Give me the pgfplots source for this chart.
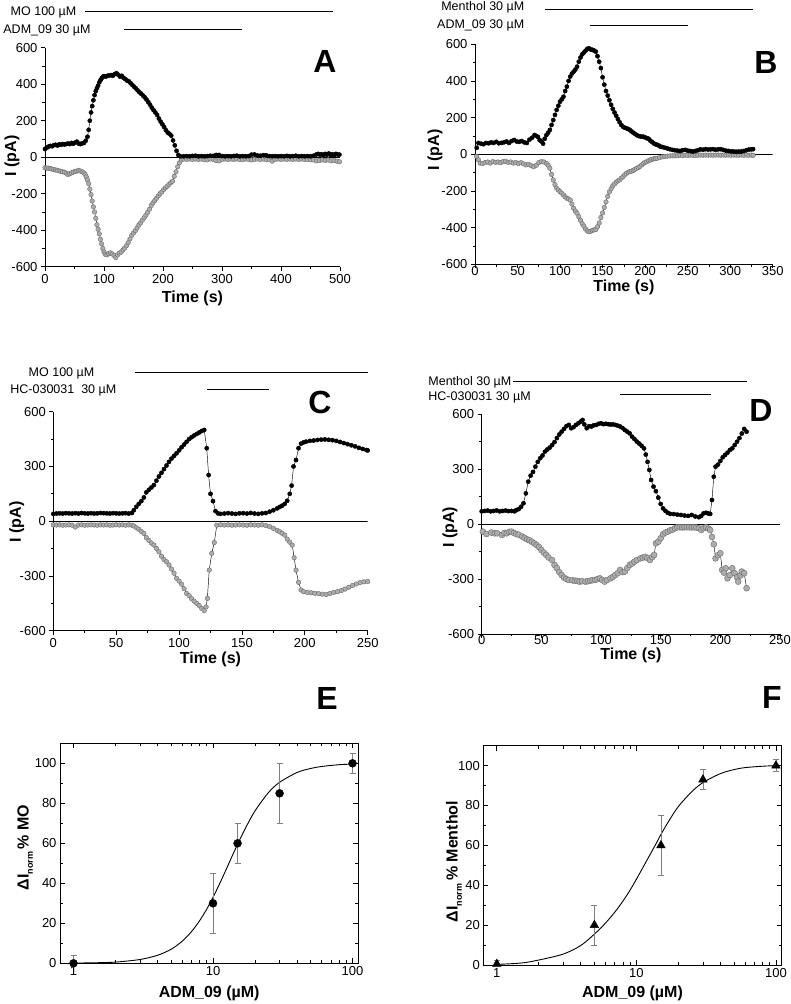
\documentclass[border=0pt]{standalone}
\usepackage{fontspec}
\setmainfont{Liberation Sans}
\usepackage{pgfplots}
\pgfplotsset{compat=1.18}

\newcommand\tl{\fontsize{13}{15}\selectfont}
\newcommand\al{\fontsize{16}{18}\selectfont\bfseries}
\newcommand\pl{\fontsize{32}{34}\selectfont\bfseries}
\newcommand\dl{\fontsize{12.5}{14}\selectfont}

\pgfplotsset{
  trace/.style={
    scale only axis, axis lines=left, axis line style={-, line width=0.8pt},
    tick align=outside, major tick length=4pt, minor tick length=2.5pt,
    tick style={black, line width=0.7pt},
    minor x tick num=1, minor y tick num=1,
    xmin=0, ymin=-600, ymax=600,
    tick label style={font=\tl},
    /pgf/number format/assume math mode=true,
    xlabel={Time (s)}, ylabel={I (pA)},
    label style={font=\al},
  },
  dose/.style={
    scale only axis, xmin=0.8, xmax=110, ymin=0, ymax=110,
    axis line style={line width=0.8pt},
    tick align=inside, major tick length=5pt, minor tick length=3pt,
    tick style={black, line width=0.7pt},
    xtick={1,10,100}, xticklabels={1,10,100},
    minor xtick={2,3,4,5,6,7,8,9,20,30,40,50,60,70,80,90},
    ytick={0,20,40,60,80,100}, minor ytick={10,30,50,70,90},
    tick label style={font=\tl},
    /pgf/number format/assume math mode=true,
    xlabel={ADM\_09 (µM)},
    label style={font=\al},
  },
  blk/.style={black, line width=0.45pt, mark=*, mark size=2.1pt,
    mark options={fill=black, draw=black}},
  gry/.style={black, line width=0.45pt, mark=*, mark size=2.3pt,
    mark options={fill=gray!65, draw=gray!85!black, line width=0.4pt}},
  ebar/.style={error bars/.cd, y dir=both, y explicit,
    error bar style={gray, line width=0.6pt},
    error mark options={rotate=90, gray, mark size=3pt, line width=0.6pt}},
}

\begin{document}
\begin{tikzpicture}
\path[use as bounding box] (0,0) rectangle (791pt,1004pt);

% ---------- A ----------
\begin{axis}[trace, at={(45pt,737.3pt)}, width=295pt, height=219pt,
  xmax=500, xtick={0,100,...,500}, ytick={-600,-400,...,600},
  xlabel style={at={(axis description cs:0.5,-0.143)}, anchor=center},
  ylabel style={at={(axis description cs:-0.112,0.505)}, anchor=center}]
\draw[line width=0.8pt] (rel axis cs:0,0.5) -- (rel axis cs:1,0.5);
\addplot[gry] coordinates {(0,-58) (3,-60) (6,-60) (9,-62) (12,-65) (15,-68) (18,-70) (21,-72) (24,-75) (27,-78) (30,-80) (33,-82) (36,-88) (39,-95) (42,-90) (45,-86) (48,-82) (51,-78) (54,-76) (57,-72) (60,-76) (63,-80) (66,-86) (68,-95) (70,-108) (72,-125) (74,-145) (76,-175) (78,-205) (80,-240) (82,-272) (84,-300) (86,-335) (88,-370) (90,-395) (92,-420) (94,-450) (96,-475) (98,-500) (100,-520) (102,-532) (105,-535) (108,-528) (111,-524) (114,-530) (117,-538) (120,-550) (123,-535) (126,-525) (129,-520) (132,-508) (135,-498) (138,-485) (141,-468) (144,-448) (147,-428) (150,-415) (153,-402) (156,-388) (159,-372) (162,-360) (165,-345) (168,-332) (171,-318) (174,-302) (177,-285) (180,-265) (183,-250) (186,-238) (189,-225) (192,-212) (195,-200) (198,-190) (201,-178) (204,-168) (207,-160) (210,-150) (213,-140) (216,-132) (219,-105) (222,-80) (225,-52) (228,-30) (231,-14) (235,-10) (240,-12) (245,-10) (250,-12) (255,-10) (260,-12) (265,-10) (270,-14) (275,-15) (280,-10) (285,-12) (290,-18) (295,-20) (300,-12) (305,-10) (310,-12) (315,-10) (320,-12) (325,-10) (330,-12) (335,-14) (340,-10) (345,-12) (350,-15) (355,-12) (360,-10) (365,-12) (370,-10) (375,-14) (380,-12) (385,-22) (390,-12) (395,-10) (400,-12) (405,-10) (410,-12) (415,-10) (420,-12) (425,-10) (430,-12) (435,-10) (440,-12) (445,-12) (450,-14) (455,-15) (460,-20) (465,-18) (470,-15) (475,-18) (480,-15) (485,-20) (490,-18) (495,-22) (499,-25)};
\addplot[blk] coordinates {(0,45) (3,52) (6,58) (9,62) (12,60) (15,66) (18,68) (21,64) (24,70) (27,68) (30,72) (33,70) (36,72) (39,75) (42,72) (45,78) (48,74) (51,80) (54,85) (57,75) (60,72) (63,76) (66,78) (69,90) (72,112) (74,150) (76,200) (78,245) (80,280) (82,312) (84,340) (86,362) (88,378) (90,392) (92,410) (94,422) (96,432) (98,440) (100,444) (103,442) (106,446) (109,448) (112,450) (115,446) (118,455) (121,460) (124,452) (127,442) (130,446) (133,435) (136,428) (139,420) (142,416) (145,406) (148,396) (151,386) (154,377) (157,366) (160,356) (163,348) (166,338) (169,328) (172,316) (175,302) (178,288) (181,272) (184,258) (187,245) (190,232) (193,212) (196,195) (199,180) (202,165) (205,148) (208,135) (211,128) (214,118) (217,92) (220,65) (223,35) (226,12) (229,5) (235,5) (240,6) (245,5) (250,7) (255,8) (260,5) (265,6) (270,5) (275,6) (280,8) (285,7) (290,12) (295,12) (300,6) (305,5) (310,6) (315,5) (320,7) (325,8) (330,5) (335,6) (340,5) (345,6) (350,14) (355,15) (360,9) (365,8) (370,11) (375,10) (380,6) (385,5) (390,6) (395,5) (400,6) (405,5) (410,7) (415,5) (420,6) (425,8) (430,5) (435,6) (440,5) (445,6) (450,5) (455,8) (460,15) (463,18) (466,14) (469,16) (472,12) (475,18) (478,14) (481,20) (484,12) (487,16) (490,10) (493,18) (496,15) (499,14)};
\end{axis}

% ---------- B ----------
\begin{axis}[trace, at={(475pt,739.7pt)}, width=297.7pt, height=220pt,
  xmax=350, xtick={0,50,...,350}, ytick={-600,-400,...,600},
  xticklabel style={yshift=5pt},
  xlabel style={at={(axis description cs:0.5,-0.106)}, anchor=center},
  ylabel style={at={(axis description cs:-0.134,0.52)}, anchor=center}]
\draw[line width=0.8pt] (rel axis cs:0,0.5) -- (rel axis cs:1,0.5);
\addplot[gry] coordinates {(2,-12) (4,-30) (6,-48) (9,-50) (12,-45) (15,-42) (18,-48) (21,-40) (24,-44) (27,-42) (30,-46) (33,-40) (36,-38) (39,-44) (42,-42) (45,-48) (48,-45) (51,-50) (54,-46) (57,-52) (60,-58) (63,-55) (66,-62) (69,-68) (72,-60) (75,-45) (78,-40) (81,-42) (84,-50) (86,-60) (88,-76) (90,-110) (92,-140) (94,-165) (96,-185) (98,-195) (100,-204) (102,-212) (104,-222) (106,-232) (108,-240) (110,-244) (112,-250) (114,-272) (116,-295) (118,-310) (120,-322) (122,-340) (124,-360) (126,-378) (128,-392) (130,-408) (132,-418) (134,-422) (136,-420) (138,-415) (140,-412) (142,-410) (144,-395) (146,-375) (148,-345) (150,-320) (152,-290) (154,-260) (156,-230) (158,-205) (160,-188) (162,-172) (164,-162) (166,-152) (168,-145) (170,-140) (172,-130) (174,-122) (176,-112) (178,-104) (180,-98) (182,-95) (184,-92) (186,-88) (188,-82) (190,-76) (192,-72) (194,-66) (196,-58) (198,-50) (200,-44) (202,-40) (204,-35) (206,-31) (208,-28) (210,-25) (212,-23) (214,-22) (217,-18) (220,-14) (223,-12) (226,-10) (229,-9) (232,-8) (235,-8) (238,-7) (241,-6) (244,-6) (247,-5) (250,-6) (253,-5) (256,-5) (259,-6) (262,-5) (265,-4) (268,-5) (271,-4) (274,-5) (277,-4) (280,-5) (283,-4) (286,-4) (289,-5) (292,-4) (295,-5) (298,-4) (301,-5) (304,-4) (307,-5) (310,-5) (313,-4) (316,-5) (319,-4) (322,-5) (325,-4) (327,-6)};
\addplot[blk] coordinates {(2,35) (4,62) (7,58) (10,55) (13,62) (16,60) (19,65) (22,62) (25,68) (28,60) (31,62) (34,65) (37,70) (40,62) (43,72) (46,78) (49,70) (52,68) (55,72) (58,65) (61,62) (64,80) (67,90) (70,105) (72,100) (74,95) (76,78) (78,70) (80,58) (82,85) (84,105) (86,118) (88,133) (90,160) (92,187) (94,215) (96,242) (98,265) (100,287) (102,300) (104,314) (106,345) (108,369) (110,400) (112,424) (114,440) (116,451) (118,462) (120,478) (122,505) (124,528) (126,545) (128,555) (130,565) (132,575) (134,578) (136,572) (138,570) (140,566) (142,560) (144,535) (146,505) (148,470) (150,420) (152,380) (154,345) (156,320) (158,295) (160,270) (162,248) (164,228) (166,210) (168,192) (170,175) (172,160) (174,150) (176,145) (178,142) (180,138) (182,133) (184,125) (186,118) (188,112) (190,105) (192,100) (194,98) (196,96) (198,96) (200,92) (202,88) (204,85) (206,75) (208,68) (210,60) (212,55) (214,52) (216,48) (218,42) (220,40) (223,36) (226,32) (229,28) (232,24) (235,22) (238,20) (241,18) (244,22) (247,24) (250,20) (253,18) (256,15) (259,18) (262,22) (265,27) (268,25) (271,28) (274,26) (277,27) (280,28) (283,25) (286,27) (289,28) (292,24) (295,20) (298,18) (301,16) (304,15) (307,14) (310,15) (313,15) (316,18) (319,22) (322,26) (325,27) (327,28)};
\end{axis}

% ---------- C ----------
\begin{axis}[trace, at={(53.3pt,373.3pt)}, width=314.4pt, height=219pt,
  xmax=250, xtick={0,50,...,250}, ytick={-600,-300,0,300,600},
  xlabel style={at={(axis description cs:0.5,-0.131)}, anchor=center},
  ylabel style={at={(axis description cs:-0.116,0.496)}, anchor=center}]
\draw[line width=0.8pt] (rel axis cs:0,0.5) -- (rel axis cs:1,0.5);
\addplot[gry] coordinates {(0,-20) (2.5,-21) (5,-20) (7.5,-22) (10,-21) (12.5,-20) (15,-22) (17.5,-32) (20,-21) (22.5,-20) (25,-22) (27.5,-21) (30,-20) (32.5,-21) (35,-22) (37.5,-20) (40,-21) (42.5,-20) (45,-22) (47.5,-21) (50,-20) (52.5,-21) (55,-20) (57.5,-22) (60,-20) (62.5,-22) (64,-26) (66,-36) (68,-44) (70,-56) (72,-67) (74,-90) (76,-105) (78,-120) (80,-131) (82,-149) (84,-168) (86,-192) (88,-210) (90,-222) (92,-240) (94,-262) (96,-285) (98,-313) (100,-328) (102,-345) (104,-370) (106,-396) (108,-408) (110,-425) (112,-438) (114,-450) (116,-462) (118,-478) (120,-490) (121.5,-470) (122.5,-423) (124,-268) (126,-176) (128,-117) (130,-22) (133,-20) (136,-21) (139,-20) (142,-22) (145,-21) (148,-20) (151,-21) (154,-22) (157,-20) (160,-21) (163,-22) (166,-20) (169,-24) (172,-30) (175,-39) (178,-50) (180,-58) (182,-66) (184,-76) (186,-98) (188,-115) (190,-131) (191.5,-200) (193,-268) (195,-335) (197,-377) (199,-386) (202,-390) (205,-392) (208,-395) (211,-397) (214,-400) (217,-401) (220,-396) (223,-390) (226,-386) (229,-380) (232,-372) (235,-362) (238,-352) (241,-344) (244,-336) (247,-332) (250,-330)};
\addplot[blk] coordinates {(0,40) (2.5,42) (5,43) (7.5,42) (10,44) (12.5,43) (15,42) (17.5,44) (20,42) (22.5,45) (25,43) (27.5,42) (30,44) (32.5,42) (35,43) (37.5,45) (40,44) (42.5,43) (45,42) (47.5,44) (50,43) (52.5,42) (55,43) (57.5,44) (60,42) (62.5,45) (64,60) (66,79) (68,95) (70,110) (72,130) (74,158) (76,172) (78,185) (80,198) (82,222) (84,245) (86,265) (88,285) (90,305) (92,325) (94,343) (96,358) (98,372) (100,388) (102,405) (104,420) (106,435) (108,450) (110,460) (112,470) (114,478) (116,486) (118,494) (120,500) (122,400) (123.5,253) (125,150) (127,110) (129,55) (131,43) (133,40) (136,42) (139,44) (142,42) (145,40) (148,43) (151,44) (154,42) (157,45) (160,42) (163,40) (166,43) (169,45) (172,52) (175,60) (178,70) (180,78) (182,85) (184,95) (186,112) (188,150) (189.5,195) (191,300) (193,335) (195,400) (197,425) (199,432) (201,436) (204,440) (207,442) (210,445) (213,447) (216,448) (219,446) (222,444) (225,440) (228,434) (231,428) (234,422) (237,416) (240,410) (243,402) (246,396) (249,390) (250,388)};
\end{axis}

% ---------- D ----------
\begin{axis}[trace, at={(481.7pt,370pt)}, width=298.3pt, height=219.7pt,
  xmax=250, xtick={0,50,...,250}, ytick={-600,-300,0,300,600},
  xticklabel style={yshift=6pt},
  xlabel style={at={(axis description cs:0.5,-0.097)}, anchor=center},
  ylabel style={at={(axis description cs:-0.106,0.485)}, anchor=center}]
\draw[line width=0.8pt] (rel axis cs:0,0.5) -- (rel axis cs:1,0.5);
\addplot[gry, mark size=3pt] coordinates {(1,-41) (4,-54) (8,-46) (11,-50) (13,-50) (17,-59) (19,-48) (21,-50) (23,-42) (25,-41) (27,-48) (29,-54) (31,-58) (34,-68) (36,-75) (38,-83) (40,-88) (42,-96) (44,-105) (46,-114) (48,-125) (50,-141) (52,-155) (54,-168) (56,-182) (59,-196) (61,-223) (63,-240) (65,-262) (67,-278) (69,-292) (71,-300) (73,-305) (76,-307) (78,-309) (80,-310) (82,-314) (84,-312) (87,-314) (89,-312) (91,-309) (93,-306) (95,-305) (97,-300) (99,-296) (101,-305) (103,-314) (105,-305) (108,-296) (110,-288) (112,-278) (114,-268) (116,-250) (118,-262) (120,-259) (122,-240) (124,-223) (126,-215) (128,-205) (130,-196) (133,-187) (135,-183) (137,-178) (139,-185) (141,-196) (143,-180) (144.5,-168) (146,-105) (148,-96) (150,-77) (152,-55) (154,-46) (156,-41) (158,-34) (160,-30) (162,-22) (164,-17) (166,-17) (168,-18) (170,-17) (172,-17) (174,-17) (176,-18) (178,-17) (180,-19) (182,-22) (184,-32) (186,-22) (188,-17) (190,-24) (191.5,-32) (193,-70) (194.5,-110) (196,-187) (198,-170) (200,-159) (201.5,-250) (203,-265) (204.5,-241) (206,-296) (208,-278) (210,-241) (212,-268) (214,-290) (215,-314) (217,-280) (218,-259) (220,-268) (222,-350)};
\addplot[blk] coordinates {(0,70) (2.5,72) (5,74) (7.5,70) (10,72) (12.5,75) (15,70) (17.5,72) (20,74) (22.5,71) (25,72) (27.5,70) (29,77) (31,82) (33,95) (35,114) (37,168) (39,232) (41,265) (43,285) (45,314) (47,340) (49,360) (51,375) (53,396) (55,408) (57,418) (59,432) (61,448) (63,470) (65,490) (67,505) (69,520) (71,535) (73,542) (75,524) (77,530) (79,542) (81,551) (83,560) (84.5,569) (86,545) (88,524) (90,535) (92,533) (94,540) (96,542) (98,548) (100,551) (102,546) (104,548) (106,546) (108,544) (110,545) (112,542) (114,538) (116,533) (118,525) (120,514) (122,505) (124,496) (126,478) (128,465) (130,451) (132,440) (134,428) (136,414) (137.5,380) (139,340) (140.5,296) (142,241) (144,205) (146,180) (148,145) (150,110) (152,86) (154,72) (156,62) (158,56) (161,55) (164,52) (167,50) (170,47) (173,45) (176,50) (179,42) (182,38) (184,45) (186,59) (188,62) (190,58) (191.5,56) (193,132) (194.5,259) (196,314) (198,325) (200,345) (202,365) (204,378) (206,390) (208,405) (210,414) (212,432) (214,450) (216,470) (218,495) (220,520) (222,505)};
\end{axis}

% ---------- E ----------
\begin{semilogxaxis}[dose, at={(60pt,40.7pt)}, width=298.3pt, height=220pt,
  ylabel={ΔI\raisebox{-0.5ex}{\fontsize{9}{9}\selectfont norm}\,\% MO},
  xlabel style={at={(axis description cs:0.5,-0.137)}, anchor=center},
  ylabel style={at={(axis description cs:-0.117,0.526)}, anchor=center}]
\addplot[black, line width=0.9pt, smooth] coordinates {(1,0.1) (1.5,0.3) (2,0.6) (3,1.9) (4,4.0) (5,7.0) (6,11.0) (7,15.8) (8,21.2) (9,27.0) (10,33.0) (11,38.9) (12,44.6) (13,50) (14,55) (15,59.5) (17,67.3) (20,76.2) (25,85.4) (30,90.5) (40,95.4) (50,97.4) (60,98.4) (80,99.3) (100,99.6)};
\addplot[only marks, mark=*, mark size=4pt, black, ebar] coordinates {(1,0) +- (0,4) (10,30) +- (0,15) (15,60) +- (0,10) (30,85) +- (0,15) (100,100) +- (0,5)};
\end{semilogxaxis}

% ---------- F ----------
\begin{semilogxaxis}[dose, at={(483.3pt,39pt)}, width=298.4pt, height=219.3pt,
  ylabel={ΔI\raisebox{-0.5ex}{\fontsize{9}{9}\selectfont norm}\,\% Menthol},
  xlabel style={at={(axis description cs:0.5,-0.128)}, anchor=center},
  ylabel style={at={(axis description cs:-0.098,0.472)}, anchor=center}]
\addplot[black, line width=0.9pt, smooth] coordinates {(1,0.3) (1.5,1) (2,2.5) (3,5.5) (4,9.8) (5,15.5) (6,21) (7,26.5) (8,32) (9,37.5) (10,43) (12,53) (14,61.5) (15,65.5) (17,72) (20,79.5) (25,87) (30,91.5) (40,96) (50,98) (60,99) (80,99.7) (100,100)};
\addplot[only marks, mark=triangle*, mark size=5pt, black, ebar] coordinates {(1,0.5) +- (0,2) (5,20) +- (0,10) (15,60) +- (0,15) (30,93) +- (0,5) (100,100) +- (0,3)};
\end{semilogxaxis}

% ---------- application bars and panel letters ----------
\begin{scope}[font=\dl, line width=0.8pt]
\node[anchor=east] at (80pt,992pt) {MO 100 µM};
\draw (85pt,992.3pt) -- (333pt,992.3pt);
\node[anchor=west, inner sep=0pt] at (3pt,974pt) {ADM\_09 30 µM};
\draw (124.3pt,974.7pt) -- (241.7pt,974.7pt);

\node[anchor=east] at (528pt,996.5pt) {Menthol 30 µM};
\draw (545pt,994.7pt) -- (753pt,994.7pt);
\node[anchor=east] at (528pt,979pt) {ADM\_09 30 µM};
\draw (590pt,979pt) -- (688pt,979pt);

\node[anchor=east] at (98pt,631pt) {MO 100 µM};
\draw (135pt,631.3pt) -- (368pt,631.3pt);
\node[anchor=east] at (120pt,614pt) {HC-030031\ \ 30 µM};
\draw (207pt,614.7pt) -- (269pt,614.7pt);

\node[anchor=west, inner sep=0pt] at (428pt,622pt) {Menthol 30 µM};
\draw (513pt,623pt) -- (747pt,623pt);
\node[anchor=west, inner sep=0pt] at (428pt,607pt) {HC-030031 30 µM};
\draw (620pt,609.7pt) -- (711pt,609.7pt);
\end{scope}

\node[font=\pl] at (325pt,942pt) {A};
\node[font=\pl] at (766pt,941pt) {B};
\node[font=\pl] at (320pt,602pt) {C};
\node[font=\pl] at (761pt,594pt) {D};
\node[font=\pl] at (327pt,306pt) {E};
\node[font=\pl] at (772pt,307pt) {F};
\end{tikzpicture}
\end{document}
